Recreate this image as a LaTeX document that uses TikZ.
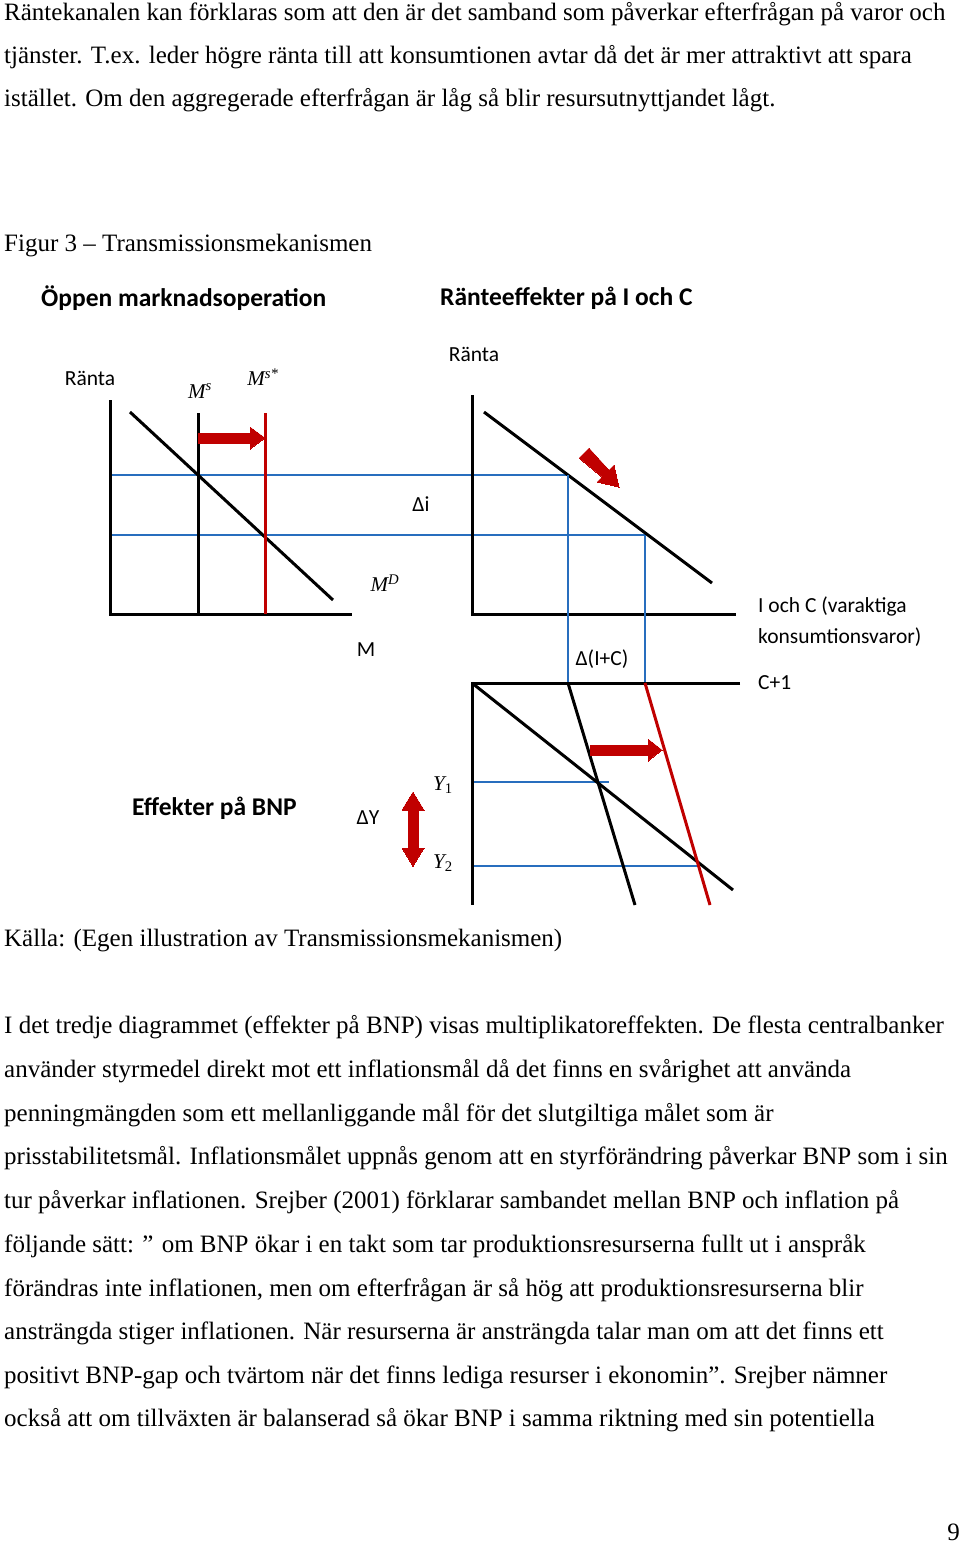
\documentclass[tikz,border=0pt]{standalone}
\usepackage{fontspec}
\setmainfont{Liberation Serif}
\newfontfamily\lab{Carlito}
\begin{document}
\begin{tikzpicture}[x=1pt,y=-1pt,
  body/.style={anchor=base west,inner sep=0pt,font=\fontsize{25}{28}\selectfont},
  lbl/.style={inner sep=0pt,font=\lab\fontsize{21.5}{25}\selectfont},
  hd/.style={inner sep=0pt,font=\lab\bfseries\fontsize{25.5}{28}\selectfont},
  mth/.style={inner sep=0pt,font=\itshape\fontsize{21}{24}\selectfont},
  ax/.style={line width=3pt},
  crv/.style={line width=3pt},
  bl/.style={draw={rgb,255:red,40;green,110;blue,190},line width=1.4pt},
  rd/.style={draw={rgb,255:red,192;green,0;blue,0},line width=3pt},
  rarrow/.style={draw={rgb,255:red,192;green,0;blue,0},fill={rgb,255:red,192;green,0;blue,0},line width=0pt}]
\useasboundingbox (0,0) rectangle (960,1543);
\node[body] (t1) at (4,20) {Räntekanalen kan förklaras som att den är det samband som påverkar efterfrågan på varor och};
\node[body] (t2) at (4,63) {tjänster. T.ex. leder högre ränta till att konsumtionen avtar då det är mer attraktivt att spara};
\node[body] (t3) at (4,106) {istället. Om den aggregerade efterfrågan är låg så blir resursutnyttjandet lågt.};
\node[body] (fig) at (4,251) {Figur 3 -- Transmissionsmekanismen};
\node[hd,anchor=west] (h1) at (41,298) {Öppen marknadsoperation};
\node[hd,anchor=west] (h2) at (440,298) {Ränteeffekter på I och C};
\node[hd,anchor=west] (h3) at (132,808) {Effekter på BNP};
% left panel
\draw[bl] (110,475) -- (568,475);
\draw[bl] (110,535) -- (645,535);
\draw[ax] (110,400) -- (110,614) -- (352,614);
\draw[crv] (130,412) -- (333,600);
\draw[crv] (198,413) -- (198,614);
\draw[rd] (265,413) -- (265,614);
\fill[rarrow] (198,433) -- (250,433) -- (250,427) -- (265,438) -- (250,449) -- (250,443) -- (198,443) -- cycle;
\node[lbl] (r1) at (90,378) {Ränta};
\node[mth] (ms) at (200,391) {M\textsuperscript{s}};
\node[mth] (mss) at (263,377) {M\textsuperscript{s*}};
\node[mth] (md) at (385,583) {M\textsuperscript{D}};
\node[lbl] (m) at (366,650) {M};
\node[lbl] (di) at (421,504) {Δi};
% right panel
\draw[ax] (472,395) -- (472,614) -- (736,614);
\draw[crv] (484,412) -- (712,583);
\fill[rarrow] (579,458) -- (589,448) -- (609,470) -- (614,465) -- (619,487) -- (597,482) -- (602,477) -- cycle;
\node[lbl] (r2) at (474,354) {Ränta};
\node[lbl,anchor=west] (ic) at (758,606) {I och C (varaktiga};
\node[lbl,anchor=west] (ic2) at (758,637) {konsumtionsvaror)};
\node[lbl] (dic) at (602,659) {Δ(I+C)};
\node[lbl,anchor=west] (c1) at (758,683) {C+1};
\draw[bl] (568,475) -- (568,683);
\draw[bl] (645,535) -- (645,683);
% bottom panel
\draw[bl] (472,782) -- (609,782);
\draw[bl] (472,866) -- (700,866);
\draw[ax] (740,683) -- (472,683) -- (472,905);
\draw[crv] (472,683) -- (733,890);
\draw[crv] (568,683) -- (635,905);
\draw[rd] (645,683) -- (710,905);
\fill[rarrow] (590,745) -- (648,745) -- (648,739) -- (662,750) -- (648,761) -- (648,755) -- (590,755) -- cycle;
\fill[rarrow] (413,792) -- (424,810) -- (418,810) -- (418,848) -- (424,848) -- (413,866) -- (402,848) -- (408,848) -- (408,810) -- (402,810) -- cycle;
\node[mth] (y1) at (443,785) {Y\textsubscript{\upshape 1}};
\node[mth] (y2) at (443,863) {Y\textsubscript{\upshape 2}};
\node[lbl] (dy) at (368,818) {ΔY};
\node[body] (src) at (4,946) {Källa: (Egen illustration av Transmissionsmekanismen)};
\node[body] (p1) at (4,1033) {I det tredje diagrammet (effekter på BNP) visas multiplikatoreffekten. De flesta centralbanker};
\node[body] (p2) at (4,1077) {använder styrmedel direkt mot ett inflationsmål då det finns en svårighet att använda};
\node[body] (p3) at (4,1121) {penningmängden som ett mellanliggande mål för det slutgiltiga målet som är};
\node[body] (p4) at (4,1164) {prisstabilitetsmål. Inflationsmålet uppnås genom att en styrförändring påverkar BNP som i sin};
\node[body] (p5) at (4,1208) {tur påverkar inflationen. Srejber (2001) förklarar sambandet mellan BNP och inflation på};
\node[body] (p6) at (4,1252) {följande sätt: ” om BNP ökar i en takt som tar produktionsresurserna fullt ut i anspråk};
\node[body] (p7) at (4,1296) {förändras inte inflationen, men om efterfrågan är så hög att produktionsresurserna blir};
\node[body] (p8) at (4,1339) {ansträngda stiger inflationen. När resurserna är ansträngda talar man om att det finns ett};
\node[body] (p9) at (4,1383) {positivt BNP-gap och tvärtom när det finns lediga resurser i ekonomin”. Srejber nämner};
\node[body] (p10) at (4,1426) {också att om tillväxten är balanserad så ökar BNP i samma riktning med sin potentiella};
\node[body,anchor=base east] (pg) at (960,1540) {9};
\end{tikzpicture}
\end{document}
